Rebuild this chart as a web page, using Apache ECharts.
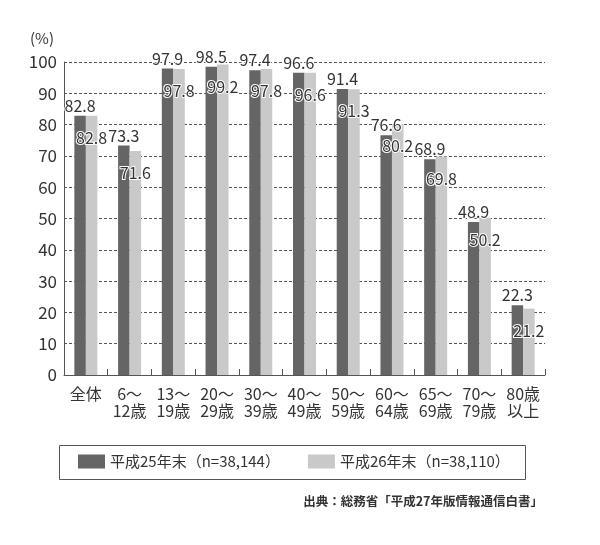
<!DOCTYPE html>
<html>
<head>
<meta charset="utf-8">
<script src="https://cdn.jsdelivr.net/npm/echarts@6/dist/echarts.min.js"></script>
<style>
html,body{margin:0;padding:0;background:#fff;}
#chart{width:600px;height:545px;}
</style>
</head>
<body>
<div id="chart"></div>
<script>
var categories = ['全体', '6〜\n12歳', '13〜\n19歳', '20〜\n29歳', '30〜\n39歳', '40〜\n49歳', '50〜\n59歳', '60〜\n64歳', '65〜\n69歳', '70〜\n79歳', '80歳\n以上'];
var seriesNames = ['平成25年末（n=38,144）', '平成26年末（n=38,110）'];
var valuesH25 = [82.8, 73.3, 97.9, 98.5, 97.4, 96.6, 91.4, 76.6, 68.9, 48.9, 22.3];
var valuesH26 = [82.8, 71.6, 97.8, 99.2, 97.8, 96.6, 91.3, 80.2, 69.8, 50.2, 21.2];
var yTicks = { min: 0, max: 100, interval: 10 };
var unitLabel = '(%)';
var sourceText = '出典：総務省「平成27年版情報通信白書」';

var FONT = '"Noto Sans CJK JP", "Noto Sans", sans-serif';
var TEXT = '#333333';
var AXIS = '#555555';

var chart = echarts.init(document.getElementById('chart'), null, { renderer: 'canvas' });

function labelOpt(pos, dist) {
  return {
    show: true,
    position: pos,
    distance: dist,
    fontSize: 16,
    fontFamily: FONT,
    color: TEXT,
    textBorderColor: '#ffffff',
    textBorderWidth: 2,
    formatter: function (p) { return p.value.toFixed(1); }
  };
}

chart.setOption({
  animation: false,
  backgroundColor: '#ffffff',
  textStyle: { fontFamily: FONT },
  grid: { left: 64, right: 55, top: 62, bottom: 170, containLabel: false },
  legend: {
    data: seriesNames,
    left: 78,
    top: 454,
    icon: 'rect',
    itemWidth: 27,
    itemHeight: 14,
    itemGap: 28,
    padding: 0,
    textStyle: { fontSize: 15, color: TEXT, fontFamily: FONT }
  },
  xAxis: {
    type: 'category',
    data: categories,
    axisLine: { show: true, lineStyle: { color: AXIS, width: 1 } },
    axisTick: { show: true, inside: true, length: 6, lineStyle: { color: AXIS } },
    axisLabel: { fontSize: 16, color: TEXT, lineHeight: 17, margin: 10, fontFamily: FONT, interval: 0 },
    splitLine: { show: false }
  },
  yAxis: {
    type: 'value',
    min: yTicks.min,
    max: yTicks.max,
    interval: yTicks.interval,
    axisLine: { show: true, lineStyle: { color: AXIS, width: 1 } },
    axisTick: { show: false },
    axisLabel: { fontSize: 17, color: TEXT, margin: 7, fontFamily: FONT },
    splitLine: { show: true, lineStyle: { color: AXIS, width: 1, type: [3, 2] } }
  },
  series: [
    {
      name: seriesNames[0],
      type: 'bar',
      data: valuesH25,
      barWidth: 11.5,
      barGap: '0%',
      itemStyle: { color: '#656565' },
      label: labelOpt('top', 2),
      z: 2
    },
    {
      name: seriesNames[1],
      type: 'bar',
      data: valuesH26,
      barWidth: 11.5,
      barGap: '0%',
      itemStyle: { color: '#c9c9c9' },
      label: labelOpt('insideTop', 14),
      z: 2
    }
  ],
  graphic: [
    {
      type: 'text',
      left: 30,
      top: 31,
      style: { text: unitLabel, fontSize: 15, fill: TEXT, fontFamily: FONT }
    },
    {
      type: 'rect',
      shape: { x: 59.5, y: 445.5, width: 466, height: 34 },
      style: { fill: 'none', stroke: AXIS, lineWidth: 1 },
      silent: true
    },
    {
      type: 'text',
      right: 57,
      top: 495,
      style: { text: sourceText, fontSize: 12.5, fontWeight: 'bold', fill: TEXT, fontFamily: FONT }
    }
  ]
});
</script>
</body>
</html>
